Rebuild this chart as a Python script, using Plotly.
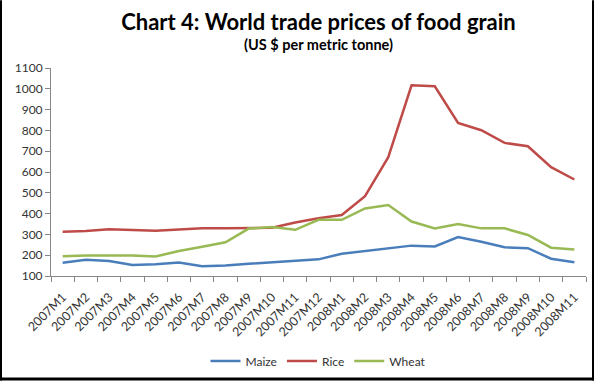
import plotly.graph_objects as go

months = ["2007M1","2007M2","2007M3","2007M4","2007M5","2007M6","2007M7","2007M8",
          "2007M9","2007M10","2007M11","2007M12","2008M1","2008M2","2008M3","2008M4",
          "2008M5","2008M6","2008M7","2008M8","2008M9","2008M10","2008M11"]
maize = [164,178,172,153,157,165,147,150,159,165,171,180,207,220,234,246,242,287,265,238,234,183,166]
rice = [313,316,325,322,318,324,330,330,330,332,357,378,393,484,671,1017,1012,836,801,740,724,623,564]
wheat = [195,199,199,199,194,220,241,262,328,335,322,370,370,425,441,362,329,350,329,329,297,236,228]

W, H = 594, 382
L, R, T, B = 51, 8, 68, 105
pw, ph = W - L - R, H - T - B

fig = go.Figure()
for name, vals, col in [("Maize", maize, "#4A7EBB"), ("Rice", rice, "#BE4B48"), ("Wheat", wheat, "#98B954")]:
    fig.add_trace(go.Scatter(x=months, y=vals, name=name, mode="lines",
                             line=dict(color=col, width=2.5)))

def px_x(p):
    return (p - L) / pw

def px_y(p):
    return (H - B - p) / ph

border = "black"
shapes = [
    dict(type="rect", xref="paper", yref="paper", x0=px_x(0), x1=px_x(2), y0=px_y(H), y1=px_y(0),
         fillcolor=border, line_width=0),
    dict(type="rect", xref="paper", yref="paper", x0=px_x(592), x1=px_x(W), y0=px_y(H), y1=px_y(0),
         fillcolor=border, line_width=0),
    dict(type="rect", xref="paper", yref="paper", x0=px_x(0), x1=px_x(W), y0=px_y(H), y1=px_y(379),
         fillcolor=border, line_width=0),
]

fig.update_layout(
    width=W, height=H,
    margin=dict(l=L, r=R, t=T, b=B),
    paper_bgcolor="white", plot_bgcolor="white",
    font=dict(family="Lato, Open Sans, sans-serif", color="#333333"),
    title=dict(text="<b>Chart 4: World trade prices of food grain</b>",
               x=0.5, xref="paper", xanchor="center", y=1 - 22 / H, yanchor="middle",
               font=dict(size=22, color="black", family="Lato, sans-serif")),
    annotations=[dict(text="<b>(US $ per metric tonne)</b>", xref="paper", yref="paper",
                      x=0.5, y=px_y(44), xanchor="center", yanchor="middle", showarrow=False,
                      font=dict(size=14.5, color="black", family="Lato, sans-serif"))],
    showlegend=True,
    legend=dict(orientation="h", x=0.5, xanchor="center", y=px_y(361), yanchor="middle",
                font=dict(size=12, color="#333333"), itemwidth=30, traceorder="normal"),
    shapes=shapes,
    xaxis=dict(type="category", tickangle=-45, tickson="boundaries", ticks="outside",
               ticklen=5, tickcolor="#868686", showline=True, linecolor="#868686",
               showgrid=False, tickfont=dict(size=12.5, color="#333333"), range=[-0.5, 22.5],
               ticklabelstandoff=8),
    yaxis=dict(range=[100, 1100], dtick=100, ticks="outside", ticklen=5, tickcolor="#868686",
               showline=True, linecolor="#868686", showgrid=False, zeroline=False,
               tickfont=dict(size=12, color="#333333")),
)

fig.write_html("out.html", config={"displayModeBar": False},
               post_script="document.body.style.margin='0';")
